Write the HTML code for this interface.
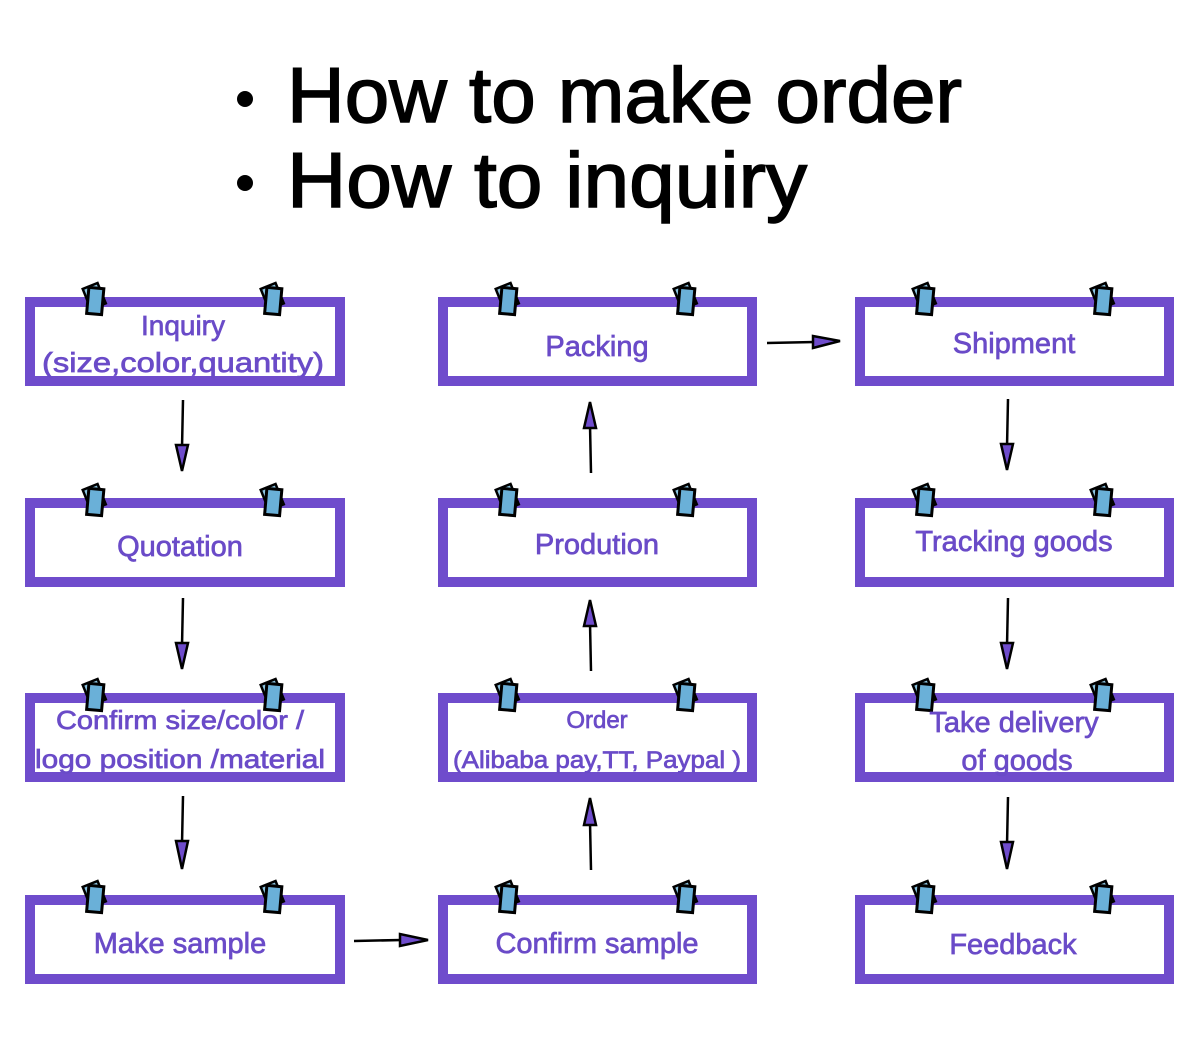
<!DOCTYPE html>
<html><head><meta charset="utf-8"><style>
html,body{margin:0;padding:0;background:#fff;width:1200px;height:1039px;overflow:hidden}
svg{display:block}
.t{font-family:"Liberation Sans",sans-serif;fill:#6a4bc8;stroke:#6a4bc8;stroke-width:0.7;text-anchor:middle}
.h{font-family:"Liberation Sans",sans-serif;fill:#000;stroke:#000;stroke-width:1.5;font-size:78px}
</style></head><body>
<svg width="1200" height="1039" viewBox="0 0 1200 1039" xmlns="http://www.w3.org/2000/svg">
<defs>
<g id="clip">
<rect x="-8" y="-13" width="16" height="22" fill="#8cc4e0" stroke="#000" stroke-width="2.5" transform="rotate(-22)"/>
<rect x="-7" y="-10" width="15" height="26" fill="#6ab0d8" stroke="#000" stroke-width="3" transform="rotate(5)"/>
</g>
</defs>
<circle cx="245" cy="99" r="8" fill="#000"/>
<text class="h" x="287" y="122" textLength="675" lengthAdjust="spacingAndGlyphs">How to make order</text>
<circle cx="245" cy="183" r="8" fill="#000"/>
<text class="h" x="287" y="207" textLength="520" lengthAdjust="spacingAndGlyphs">How to inquiry</text>

<g fill="none" stroke="#6f4ccc" stroke-width="10">
<rect x="30" y="302" width="310" height="79"/>
<rect x="30" y="503" width="310" height="79"/>
<rect x="30" y="698" width="310" height="79"/>
<rect x="30" y="900" width="310" height="79"/>
<rect x="443" y="302" width="309" height="79"/>
<rect x="443" y="503" width="309" height="79"/>
<rect x="443" y="698" width="309" height="79"/>
<rect x="443" y="900" width="309" height="79"/>
<rect x="860" y="302" width="309" height="79"/>
<rect x="860" y="503" width="309" height="79"/>
<rect x="860" y="698" width="309" height="79"/>
<rect x="860" y="900" width="309" height="79"/>
</g>

<g>
<use href="#clip" x="95" y="298"/><use href="#clip" x="273" y="298"/>
<use href="#clip" x="95" y="499"/><use href="#clip" x="273" y="499"/>
<use href="#clip" x="95" y="694"/><use href="#clip" x="273" y="694"/>
<use href="#clip" x="95" y="896"/><use href="#clip" x="273" y="896"/>
<use href="#clip" x="508" y="298"/><use href="#clip" x="686" y="298"/>
<use href="#clip" x="508" y="499"/><use href="#clip" x="686" y="499"/>
<use href="#clip" x="508" y="694"/><use href="#clip" x="686" y="694"/>
<use href="#clip" x="508" y="896"/><use href="#clip" x="686" y="896"/>
<use href="#clip" x="925" y="298"/><use href="#clip" x="1103" y="298"/>
<use href="#clip" x="925" y="499"/><use href="#clip" x="1103" y="499"/>
<use href="#clip" x="925" y="694"/><use href="#clip" x="1103" y="694"/>
<use href="#clip" x="925" y="896"/><use href="#clip" x="1103" y="896"/>
</g>

<g stroke="#000" stroke-width="2.5" fill="#6f4ccc" stroke-linejoin="miter">
<line x1="183" y1="400" x2="182" y2="448"/><polygon points="176,445 188,445 182,471"/>
<line x1="183" y1="598" x2="182" y2="646"/><polygon points="176,643 188,643 182,669"/>
<line x1="183" y1="796" x2="182" y2="844"/><polygon points="176,841 188,841 182,869"/>
<line x1="591" y1="870" x2="590" y2="822"/><polygon points="584,825 596,825 590,798"/>
<line x1="591" y1="671" x2="590" y2="623"/><polygon points="584,626 596,626 590,600"/>
<line x1="591" y1="473" x2="590" y2="425"/><polygon points="584,428 596,428 590,402"/>
<line x1="1008" y1="399" x2="1007" y2="447"/><polygon points="1001,444 1013,444 1007,470"/>
<line x1="1008" y1="598" x2="1007" y2="646"/><polygon points="1001,643 1013,643 1007,669"/>
<line x1="1008" y1="797" x2="1007" y2="845"/><polygon points="1001,842 1013,842 1007,869"/>
<line x1="354" y1="941" x2="402" y2="940"/><polygon points="400,934 400,946 428,940"/>
<line x1="767" y1="343" x2="815" y2="342"/><polygon points="813,336 813,348 840,341"/>
</g>

<text class="t" x="183" y="335" font-size="28">Inquiry</text>
<text class="t" x="183" y="372" font-size="28" textLength="282" lengthAdjust="spacingAndGlyphs">(size,color,quantity)</text>
<text class="t" x="180" y="556" font-size="29">Quotation</text>
<text class="t" x="180" y="729" font-size="26" textLength="248" lengthAdjust="spacingAndGlyphs">Confirm size/color /</text>
<text class="t" x="180" y="768" font-size="26" textLength="290" lengthAdjust="spacingAndGlyphs">logo position /material</text>
<text class="t" x="180" y="953" font-size="29">Make sample</text>
<text class="t" x="597" y="356" font-size="29">Packing</text>
<text class="t" x="597" y="554" font-size="29">Prodution</text>
<text class="t" x="597" y="728" font-size="24">Order</text>
<text class="t" x="597" y="768" font-size="24" textLength="288" lengthAdjust="spacingAndGlyphs">(Alibaba pay,TT, Paypal )</text>
<text class="t" x="597" y="953" font-size="29">Confirm sample</text>
<text class="t" x="1014" y="353" font-size="29">Shipment</text>
<text class="t" x="1014" y="551" font-size="29">Tracking goods</text>
<text class="t" x="1014" y="732" font-size="29">Take delivery</text>
<text class="t" x="1017" y="770" font-size="29">of goods</text>
<text class="t" x="1013" y="954" font-size="29">Feedback</text>
</svg>
</body></html>
